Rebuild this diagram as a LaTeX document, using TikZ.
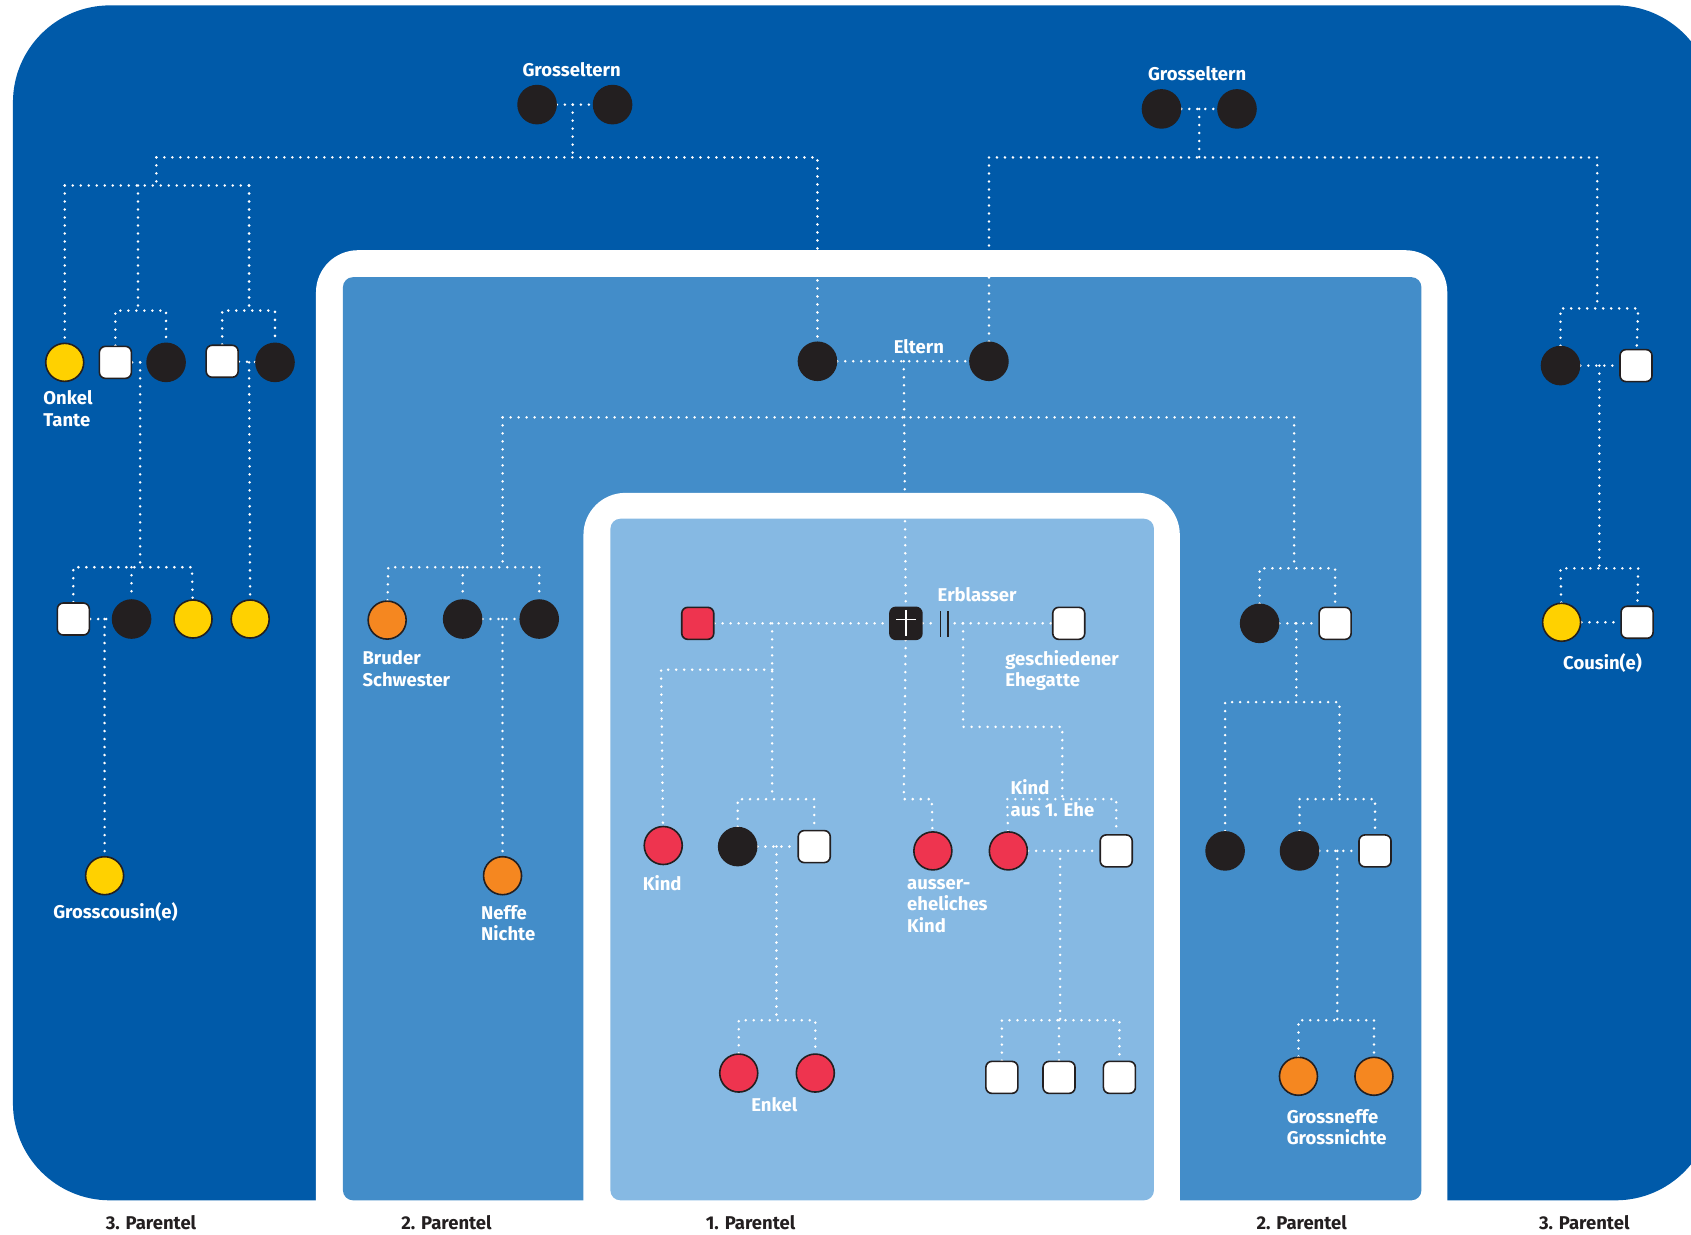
\documentclass[tikz,border=0pt]{standalone}
\usepackage{fontspec}
\setmainfont{Fira Sans}
\usetikzlibrary{calc}
\pgfdeclarelayer{bg}
\pgfdeclarelayer{lines}
\pgfsetlayers{bg,lines,main}
\definecolor{dblue}{RGB}{0,90,169}
\definecolor{mblue}{RGB}{67,141,201}
\definecolor{lblue}{RGB}{134,185,227}
\definecolor{nblack}{RGB}{35,31,32}
\definecolor{nyellow}{RGB}{255,209,0}
\definecolor{norange}{RGB}{245,135,32}
\definecolor{nred}{RGB}{238,52,79}
\begin{document}
\begin{tikzpicture}[x=1.0784pt,y=-1.0784pt,
  dl/.style={white,line width=2.8pt,line cap=round,dash pattern=on 0pt off 8pt},
  pers/.style={circle,minimum size=38pt,inner sep=0pt,draw=nblack,line width=1.6pt},
  blk/.style={pers,fill=nblack},
  yel/.style={pers,fill=nyellow},
  ora/.style={pers,fill=norange},
  redc/.style={pers,fill=nred},
  sq/.style={rectangle,rounded corners=6pt,minimum size=32pt,inner sep=0pt,draw=nblack,line width=1.6pt,fill=white},
  redsq/.style={sq,fill=nred},
  lab/.style={text=white,inner sep=0pt,align=left,font=\bfseries\fontsize{18.5}{21.5}\selectfont},
  blab/.style={text=nblack,inner sep=0pt,font=\bfseries\fontsize{18.5}{21}\selectfont}]
\useasboundingbox (0,0) rectangle (1568,1145);
\clip (0,0) rectangle (1568,1145);
\begin{pgfonlayer}{bg}
\fill[dblue,rounded corners=97pt] (12,5) rectangle (1588,1113);
\fill[white,rounded corners=42pt] (293,232) rectangle (1342,1170);
\fill[mblue,rounded corners=10pt] (318,257) rectangle (1318,1113);
\fill[white,rounded corners=42pt] (541,457) rectangle (1094,1170);
\fill[lblue,rounded corners=10pt] (566,481) rectangle (1070,1113);
\end{pgfonlayer}

% persons
\node[blk] (GL1) at (498,97) {};
\node[blk] (GL2) at (568,97) {};
\node[blk] (GR1) at (1077,101) {};
\node[blk] (GR2) at (1147,101) {};
\node[blk] (EL1) at (758,335) {};
\node[blk] (EL2) at (917,335) {};
\node[yel] (O1) at (60,336) {};
\node[sq] (S1) at (107,336) {};
\node[blk] (C1) at (154,336) {};
\node[sq] (S2) at (206,335) {};
\node[blk] (C2) at (255,336) {};
\node[sq] (S3) at (68,574) {};
\node[blk] (C3) at (122,574) {};
\node[yel] (Y2) at (179,574) {};
\node[yel] (Y3) at (232,574) {};
\node[yel] (GC) at (97,812) {};
\node[ora] (B1) at (359,575) {};
\node[blk] (B2) at (429,574) {};
\node[blk] (B3) at (500,574) {};
\node[ora] (NF) at (466,812) {};
\node[blk] (R1) at (1168,578) {};
\node[sq] (R2) at (1238,578) {};
\node[blk] (R3) at (1136,789) {};
\node[blk] (R4) at (1205,789) {};
\node[sq] (R5) at (1275,789) {};
\node[ora] (GN1) at (1204,998) {};
\node[ora] (GN2) at (1274,998) {};
\node[blk] (P1) at (1447,339) {};
\node[sq] (P2) at (1517,339) {};
\node[yel] (CY) at (1448,577) {};
\node[sq] (CS) at (1518,577) {};
\node[redsq] (RS) at (647,578) {};
\node[sq,fill=nblack] (EB) at (840,578) {};
\draw[white,line width=1.6pt] ($(EB.center)+(0,-12)$) -- ($(EB.center)+(0,12)$);
\draw[white,line width=1.6pt] ($(EB.center)+(-9,-3.5)$) -- ($(EB.center)+(9,-3.5)$);
\node[sq] (GE) at (991,578) {};
\node[redc] (K1) at (615,784) {};
\node[blk] (K2) at (684,785) {};
\node[sq] (K3) at (755,785) {};
\node[redc] (EN1) at (685,995) {};
\node[redc] (EN2) at (756,995) {};
\node[redc] (AK) at (865,789) {};
\node[redc] (KE) at (935,789) {};
\node[sq] (KS) at (1035,789) {};
\node[sq] (U1) at (929,999) {};
\node[sq] (U2) at (982,999) {};
\node[sq] (U3) at (1038,999) {};

\begin{pgfonlayer}{lines}
% left grandparents
\draw[dl] (GL1) -- (GL2);
\coordinate (gl) at (531,97);
\draw[dl] (gl) -- (531,146);
\draw[dl] (145,146) -- (758,146) -- (EL1);
\draw[dl] (145,146) -- (145,172);
\draw[dl] (60,172) -- (231,172);
\draw[dl] (60,172) -- (O1);
\draw[dl] (128,172) -- (128,288);
\draw[dl] (S1) -- (107,288) -- (154,288) -- (C1);
\draw[dl] (231,172) -- (231,288);
\draw[dl] (S2) -- (206,288) -- (255,288) -- (C2);
\draw[dl] (S1) -- (C1);
\draw[dl] (130,336) -- (130,526);
\draw[dl] (S3) -- (68,526) -- (178,526) -- (Y2);
\draw[dl] (122,526) -- (C3);
\draw[dl] (S2) -- (C2);
\draw[dl] (231,336) -- (Y3);
\draw[dl] (S3) -- (C3);
\draw[dl] (97,574) -- (GC);
% parents
\draw[dl] (EL1) -- (EL2);
\draw[dl] (838,335) -- (EB);
\draw[dl] (466,387) -- (1200,387);
\draw[dl] (466,387) -- (466,526);
\draw[dl] (B1) -- (360,526) -- (500,526) -- (B3);
\draw[dl] (429,526) -- (B2);
\draw[dl] (B2) -- (B3);
\draw[dl] (466,574) -- (NF);
\draw[dl] (1200,387) -- (1200,527);
\draw[dl] (R1) -- (1168,527) -- (1238,527) -- (R2);
\draw[dl] (R1) -- (R2);
\draw[dl] (1202,578) -- (1202,651);
\draw[dl] (R3) -- (1136,651) -- (1242,651) -- (1242,741);
\draw[dl] (R4) -- (1205,741) -- (1275,741) -- (R5);
\draw[dl] (R4) -- (R5);
\draw[dl] (1240,789) -- (1240,946);
\draw[dl] (GN1) -- (1204,946) -- (1274,946) -- (GN2);
% right grandparents
\draw[dl] (GR1) -- (GR2);
\draw[dl] (1112,101) -- (1112,146);
\draw[dl] (EL2) -- (917,146) -- (1481,146) -- (1481,286);
\draw[dl] (P1) -- (1447,286) -- (1519,286) -- (P2);
\draw[dl] (P1) -- (P2);
\draw[dl] (1483,339) -- (1483,527);
\draw[dl] (CY) -- (1447,527) -- (1519,527) -- (CS);
\draw[dl] (CY) -- (CS);
% first parentel
\draw[dl] (RS) -- (EB);
\draw[dl] (716,578) -- (716,741);
\draw[dl] (716,621) -- (613,621) -- (K1);
\draw[dl] (K2) -- (684,741) -- (755,741) -- (K3);
\draw[dl] (K2) -- (K3);
\draw[dl] (720,785) -- (720,946);
\draw[dl] (EN1) -- (685,946) -- (756,946) -- (EN2);
\draw[dl] (EB) -- (GE);
\draw[dl] (893,578) -- (893,674) -- (985,674) -- (985,741);
\draw[dl] (KE) -- (934,741) -- (1035,741) -- (KS);
\draw[dl] (EB) -- (838,741) -- (864,741) -- (AK);
\draw[dl] (KE) -- (KS);
\draw[dl] (983,789) -- (983,946);
\draw[dl] (U1) -- (929,946) -- (1038,946) -- (U3);
\draw[dl] (982,946) -- (U2);
\end{pgfonlayer}
% divorce bars
\fill[lblue] (868,566) rectangle (884,592);
\draw[nblack,line width=1.6pt] (872,567) -- (872,591);
\draw[nblack,line width=1.6pt] (879,567) -- (879,591);

% labels
\node[lab] (tGL) at (530,65) {Grosseltern};
\node[lab] (tGR) at (1110,68) {Grosseltern};
\node[lab] (tEL) at (852,321) {Eltern};
\node[lab,anchor=west] (tOT) at (40,379) {Onkel\\Tante};
\node[lab] (tGC) at (107,846) {Grosscousin(e)};
\node[lab,anchor=west] (tBS) at (336,620) {Bruder\\Schwester};
\node[lab,anchor=west] (tNN) at (446,856) {Neffe\\Nichte};
\node[lab] (tEB) at (906,551) {Erblasser};
\node[lab,anchor=west] (tGE) at (932,622) {geschiedener\\Ehegatte};
\node[lab] (tK) at (614,819) {Kind};
\node[lab,anchor=west] (tAK) at (841,840) {ausser-\\eheliches\\Kind};
\node[lab,anchor=west] (tKE) at (937,740) {Kind\\aus 1. Ehe};
\node[lab] (tEN) at (718,1024) {Enkel};
\node[lab,anchor=west] (tGN) at (1193,1045) {Grossneffe\\Grossnichte};
\node[lab] (tCO) at (1486,615) {Cousin(e)};
\node[blab] (p1) at (140,1134) {3. Parentel};
\node[blab] (p2) at (414,1134) {2. Parentel};
\node[blab] (p3) at (696,1134) {1. Parentel};
\node[blab] (p4) at (1207,1134) {2. Parentel};
\node[blab] (p5) at (1469,1134) {3. Parentel};
\end{tikzpicture}
\end{document}
